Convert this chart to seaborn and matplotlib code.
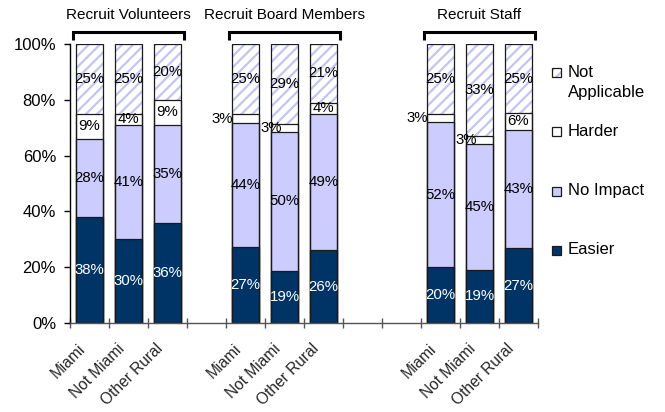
import numpy as np
import pandas as pd
import matplotlib
matplotlib.use("Agg")
import matplotlib.pyplot as plt
import matplotlib.transforms as mtransforms
import seaborn as sns
from matplotlib.patches import Rectangle

# ---------------- data ----------------
groups = ["Recruit Volunteers", "Recruit Board Members", "Recruit Staff"]
regions = ["Miami", "Not Miami", "Other Rural"]
series = ["Easier", "No Impact", "Harder", "Not Applicable"]
easier = [38, 30, 36, 27, 19, 26, 20, 19, 27]
no_impact = [28, 41, 35, 44, 50, 49, 52, 45, 43]
harder = [9, 4, 9, 3, 3, 4, 3, 3, 6]
not_applicable = [25, 25, 20, 25, 29, 21, 25, 33, 25]
yticks = [0, 20, 40, 60, 80, 100]
ytick_labels = ["0%", "20%", "40%", "60%", "80%", "100%"]
legend_labels = ["Not\nApplicable", "Harder", "No Impact", "Easier"]
gaps_after = [1, 2, 0]  # empty category slots after each group

# ---------------- styles ----------------
C_EASY = "#003366"
C_NOIMP = "#CCCCFF"
C_HATCH = "#C4C4F2"
C_EDGE = "#1a1a1a"
FONT = ["Liberation Sans", "DejaVu Sans"]

sns.set_theme(style="white")
plt.rcParams["font.family"] = FONT
plt.rcParams["hatch.linewidth"] = 1.6

# build slot order with gap placeholders
order = []
keys = []
for gi, g in enumerate(groups):
    for r in regions:
        k = f"{g}|{r}"
        order.append(k)
        keys.append(k)
    for j in range(gaps_after[gi]):
        order.append(f"gap{gi}_{j}")

df = pd.DataFrame({
    "slot": keys,
    "group": [k.split("|")[0] for k in keys],
    "region": [k.split("|")[1] for k in keys],
    "Easier": easier,
    "No Impact": no_impact,
    "Harder": harder,
    "Not Applicable": not_applicable,
})
tot = df[series].sum(axis=1)
cum = df[series].cumsum(axis=1).div(tot, axis=0) * 100
for s in series:
    df["cum_" + s] = cum[s]

fig = plt.figure(figsize=(6.65, 4.12), dpi=100)
ax = fig.add_axes([70 / 665, 1 - 323 / 412, (538 - 70) / 665, (323 - 44) / 412])

W = 0.7
common = dict(data=df, x="slot", order=order, width=W, errorbar=None,
              saturation=1, ax=ax)
# Not applicable (hatched, full height)
sns.barplot(y="cum_Not Applicable", color="white", hatch="///",
            edgecolor=C_HATCH, linewidth=0, **common)
sns.barplot(y="cum_Harder", color="white", edgecolor=C_EDGE, linewidth=0.9, **common)
sns.barplot(y="cum_No Impact", color=C_NOIMP, edgecolor=C_EDGE, linewidth=0.9, **common)
sns.barplot(y="cum_Easier", color=C_EASY, edgecolor=C_EDGE, linewidth=0.9, **common)
# outline
sns.barplot(y="cum_Not Applicable", fill=False, color=C_EDGE, linewidth=0.9, **common)

ax.set_xlim(-0.5, len(order) - 0.5)
ax.set_ylim(0, 100)
ax.set_xlabel("")
ax.set_ylabel("")

# y axis
ax.set_yticks(yticks)
ax.set_yticklabels(ytick_labels, fontsize=12, color="black")
ax.tick_params(axis="y", direction="out", length=4, width=1, color="black", pad=6, left=True)

# x axis: major ticks at boundaries, labels at centers (minor)
pos = {k: i for i, k in enumerate(order)}
ax.set_xticks(np.arange(-0.5, len(order), 1.0))
ax.set_xticklabels([])
ax.set_xticks([pos[k] for k in keys], minor=True)
ax.set_xticklabels(df["region"].tolist(), minor=True, rotation=45, ha="right",
                   rotation_mode="anchor", fontsize=11.2)
ax.tick_params(axis="x", which="major", direction="inout", length=7, width=1,
               color="#555555", bottom=True)
ax.tick_params(axis="x", which="minor", length=0, pad=13, bottom=True)
shift = mtransforms.ScaledTranslation(-12 / 100, 0, fig.dpi_scale_trans)
for lab in ax.get_xticklabels(minor=True):
    lab.set_transform(lab.get_transform() + shift)

for sp in ["top", "right"]:
    ax.spines[sp].set_visible(False)
ax.spines["left"].set_color("black")
ax.spines["left"].set_linewidth(1)
ax.spines["bottom"].set_color("#555555")
ax.spines["bottom"].set_linewidth(1)
ax.grid(False)

# segment labels
small_shift = {"Miami": (-0.33, "right"), "Not Miami": (-0.35, "center"),
               "Other Rural": (0.0, "center")}
for _, row in df.iterrows():
    x = pos[row["slot"]]
    lower = 0.0
    for s in series:
        top = row["cum_" + s]
        mid = (lower + top) / 2
        val = row[s]
        col = "white" if s == "Easier" else "black"
        dx, ha = 0.0, "center"
        if s == "Harder" and val <= 3:
            dx, ha = small_shift[row["region"]]
        ax.text(x + dx, mid, f"{val}%", ha=ha, va="center", fontsize=10.8,
                color=col)
        lower = top

# group brackets and titles
trans = ax.get_xaxis_transform()
for g in groups:
    xs = [pos[f"{g}|{r}"] for r in regions]
    x0, x1 = min(xs) - 0.42, max(xs) + 0.42
    ax.plot([x0, x0, x1, x1], [1.014, 1.043, 1.043, 1.014], transform=trans,
            color="black", lw=2.2, clip_on=False, solid_joinstyle="miter",
            solid_capstyle="butt")
    ax.text((min(xs) + max(xs)) / 2, 1.104, g, transform=trans, ha="center",
            va="center", fontsize=11, color="black")

# legend (manual)
leg_colors = [("white", "///"), ("white", None), (C_NOIMP, None), (C_EASY, None)]
leg_y = [72, 131, 191, 250]
for lab, (fc, hatch), y in zip(legend_labels, leg_colors, leg_y):
    if hatch:
        r = Rectangle((552 / 665, 1 - (y + 4.5) / 412), 9 / 665, 9 / 412,
                      transform=fig.transFigure, facecolor=fc, hatch=hatch,
                      edgecolor=C_HATCH, linewidth=0)
        fig.add_artist(r)
    r2 = Rectangle((552 / 665, 1 - (y + 4.5) / 412), 9 / 665, 9 / 412,
                   transform=fig.transFigure, facecolor=fc if not hatch else "none",
                   edgecolor=C_EDGE, linewidth=0.9)
    fig.add_artist(r2)
    if "\n" in lab:
        fig.text(568 / 665, 1 - (y - 7) / 412, lab, ha="left", va="top",
                 fontsize=12, linespacing=1.45, color="black")
    else:
        fig.text(568 / 665, 1 - y / 412, lab, ha="left", va="center",
                 fontsize=12, color="black")

fig.savefig("out.png", dpi=100)
